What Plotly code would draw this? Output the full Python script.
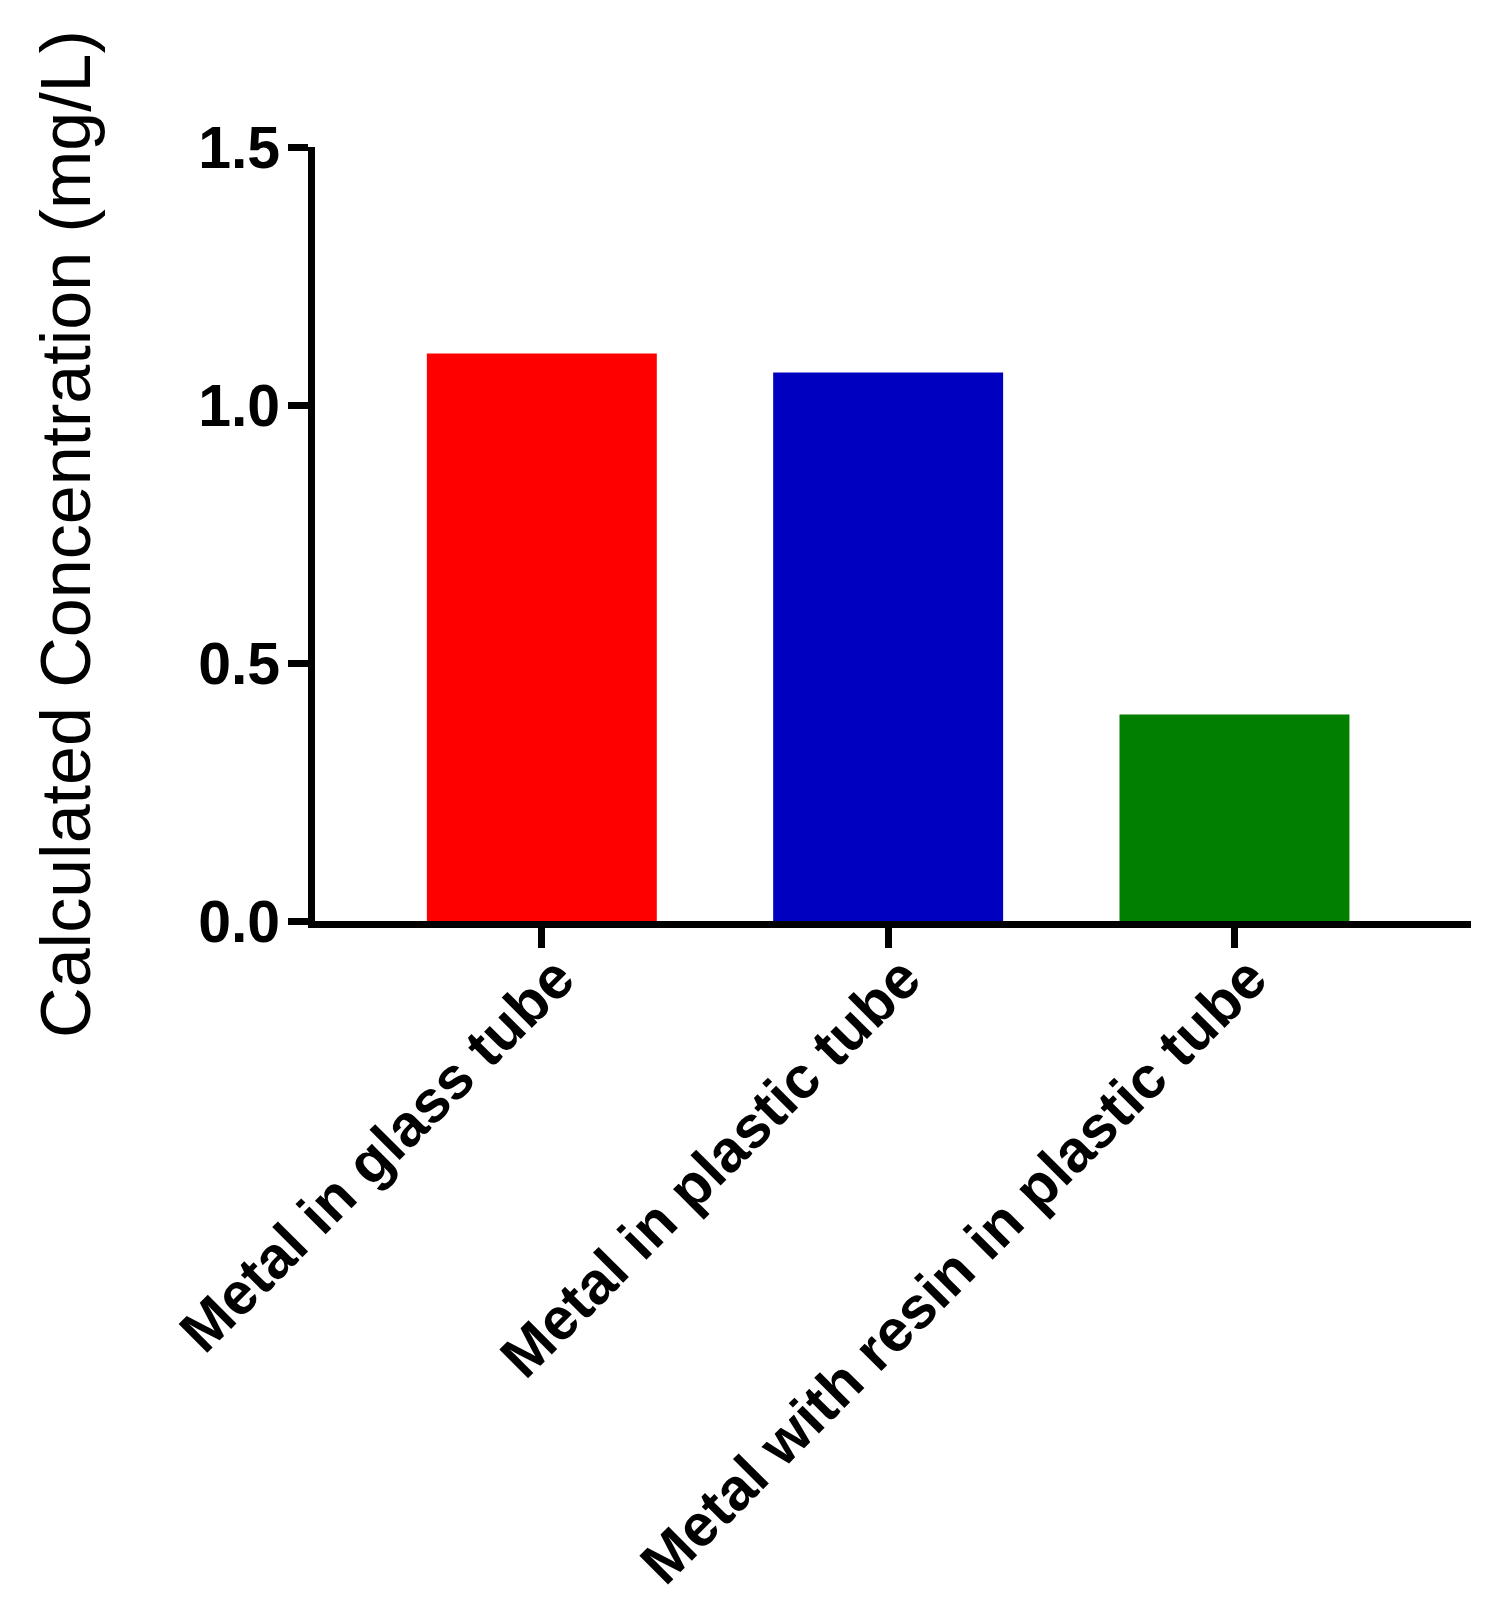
import plotly.graph_objects as go

# data
categories = ["Metal in glass tube", "Metal in plastic tube", "Metal with resin in plastic tube"]
concentration = [1.10, 1.063, 0.40]
bar_colors = ["#FF0000", "#0000C0", "#007F00"]
y_ticks = [0.0, 0.5, 1.0, 1.5]
y_tick_text = ["0.0", "0.5", "1.0", "1.5"]
y_title = "Calculated Concentration (mg/L)"

fig = go.Figure()
fig.add_trace(go.Bar(
    x=categories,
    y=concentration,
    marker=dict(color=bar_colors, line=dict(width=0)),
    width=0.664,
    showlegend=False,
))

tick_font = dict(family="Liberation Sans, Arial, sans-serif", size=59, color="black", weight="bold")

# page body has an 8px margin, so the figure is a bit smaller than the window
fig.update_layout(
    width=1490,
    height=1599,
    paper_bgcolor="white",
    plot_bgcolor="white",
    margin=dict(l=307, r=27, t=139, b=686, autoexpand=False),
    xaxis=dict(
        range=[-0.655, 2.683],
        showline=True, linecolor="black", linewidth=7,
        ticks="outside", ticklen=20, tickwidth=7, tickcolor="black",
        tickangle=-45, tickfont=tick_font,
        ticklabelstandoff=-28, ticklabelshift=15,
        showgrid=False, zeroline=False,
    ),
    yaxis=dict(
        range=[0, 1.5],
        tickvals=y_ticks, ticktext=y_tick_text,
        showline=True, linecolor="black", linewidth=7,
        ticks="outside", ticklen=20, tickwidth=7, tickcolor="black",
        tickfont=tick_font, ticklabelstandoff=-4,
        showgrid=False, zeroline=False,
    ),
    annotations=[dict(
        text=y_title, textangle=-90,
        xref="paper", yref="paper", x=-0.2155, y=0.5,
        xanchor="center", yanchor="middle", showarrow=False,
        font=dict(family="Liberation Sans, Arial, sans-serif", size=70, color="black"),
    )],
)

fig.write_html("out.html")
